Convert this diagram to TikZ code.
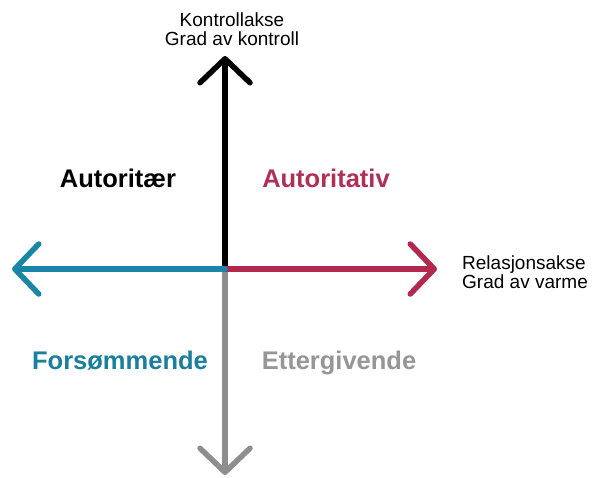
\documentclass[tikz,border=0pt]{standalone}
\usepackage{fontspec}
\setmainfont{Liberation Sans}
\usetikzlibrary{arrows.meta}
\definecolor{axblue}{HTML}{1A86A7}
\definecolor{axred}{HTML}{B2284F}
\definecolor{axgray}{HTML}{8E8E8E}
\definecolor{txblue}{HTML}{1A7F9C}
\definecolor{txred}{HTML}{B02E58}
\definecolor{txgray}{HTML}{969696}
\tikzset{
  axis/.style={line width=5.5pt, line cap=round, line join=round,
    -{Straight Barb[round, length=24pt, width=50pt]}},
  quad/.style={font=\fontsize{25.5}{30}\selectfont\bfseries, anchor=base},
  axlabel/.style={font=\fontsize{19}{19}\selectfont, align=center, inner sep=0pt, anchor=north},
  axlabelr/.style={font=\fontsize{19}{18.5}\selectfont, align=left, inner sep=0pt, anchor=north west}
}
\begin{document}
\begin{tikzpicture}[x=1pt,y=-1pt]
\useasboundingbox[fill=white] (0,0) rectangle (592,477);
\coordinate (o) at (225,269);
\coordinate (top) at (225,56);
\coordinate (bot) at (225,475);
\coordinate (lft) at (12,269);
\coordinate (rgt) at (437,269);
\draw[axis, black] (o) -- (top);
\draw[axis, axgray] (o) -- (bot);
\draw[axis, axred] (o) -- (rgt);
\draw[axis, axblue] (o) -- (lft);
\node[axlabel] (kl) at (232,13) {Kontrollakse\\Grad av kontroll};
\node[axlabelr] (rl) at (462,256) {Relasjonsakse\\Grad av varme};
\node[quad, text=black] (q1) at (118,187) {Autoritær};
\node[quad, text=txred] (q2) at (326,187) {Autoritativ};
\node[quad, text=txblue] (q3) at (120,369) {Forsømmende};
\node[quad, text=txgray] (q4) at (339,369) {Ettergivende};
\end{tikzpicture}
\end{document}
